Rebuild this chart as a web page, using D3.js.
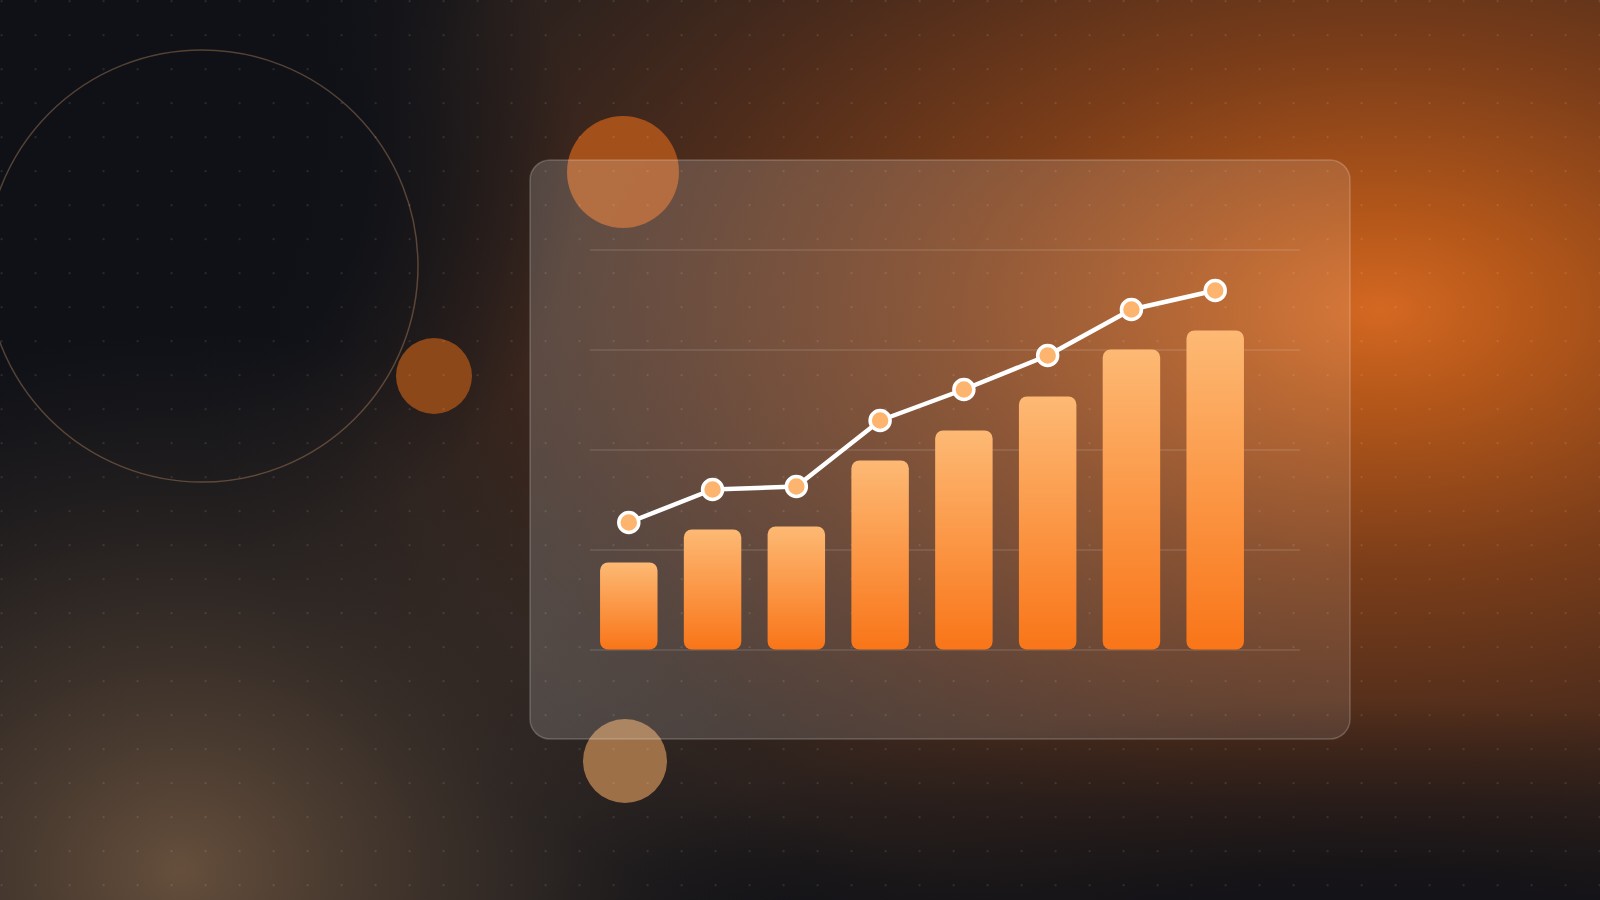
<!DOCTYPE html>
<html>
<head>
<meta charset="utf-8">
<script src="https://cdn.jsdelivr.net/npm/d3@7"></script>
<style>
  html, body { margin: 0; padding: 0; background: #0f1117; overflow: hidden; }
  svg { display: block; }
</style>
</head>
<body>
<svg id="chart" width="1600" height="900"></svg>
<script>
// ---- data ----
const categories = ["P1", "P2", "P3", "P4", "P5", "P6", "P7", "P8"];
const barValues  = [87, 120, 123, 189, 219, 253, 300, 319];
const lineValues = [127, 160, 163, 229, 260, 294, 340, 359];
const yTicks     = [0, 100, 200, 300, 400];

// ---- layout ----
const W = 1600, H = 900;
const svg = d3.select("#chart");
const defs = svg.append("defs");

function radial(id, cx, cy, rx, ry, stops) {
  const g = defs.append("radialGradient").attr("id", id)
    .attr("gradientUnits", "userSpaceOnUse")
    .attr("cx", 0).attr("cy", 0).attr("r", 1)
    .attr("gradientTransform", `translate(${cx},${cy}) scale(${rx},${ry})`);
  stops.forEach(s => g.append("stop").attr("offset", s[0]).attr("stop-color", s[1]).attr("stop-opacity", s[2]));
  return g;
}

radial("glowMain", 1380, 310, 1200, 720, [
  [0, "rgb(212,104,34)", 1],
  [0.12, "rgb(182,88,26)", 1],
  [0.35, "rgb(125,62,25)", 1],
  [0.6, "rgb(82,46,28)", 0.92],
  [0.85, "rgb(58,42,34)", 0.6],
  [1, "rgb(45,36,32)", 0]
]);
radial("darkTL", 150, 180, 430, 400, [
  [0, "rgb(15,17,23)", 1],
  [0.5, "rgb(15,17,23)", 0.92],
  [1, "rgb(15,17,23)", 0]
]);
radial("glowBL", 180, 870, 640, 540, [
  [0, "rgb(106,82,62)", 0.95],
  [0.45, "rgb(80,63,50)", 0.6],
  [1, "rgb(55,44,38)", 0]
]);
radial("darkBR", 1380, 990, 900, 290, [
  [0, "rgb(15,17,23)", 1],
  [0.4, "rgb(17,17,22)", 0.85],
  [1, "rgb(20,18,20)", 0]
]);

const barGrad = defs.append("linearGradient").attr("id", "barGrad")
  .attr("x1", 0).attr("y1", 0).attr("x2", 0).attr("y2", 1);
barGrad.append("stop").attr("offset", 0).attr("stop-color", "#fdb974");
barGrad.append("stop").attr("offset", 1).attr("stop-color", "#f97518");

const panelGrad = defs.append("linearGradient").attr("id", "panelGrad")
  .attr("x1", 0).attr("y1", 0.3).attr("x2", 1).attr("y2", 0.7);
panelGrad.append("stop").attr("offset", 0).attr("stop-color", "#ffffff").attr("stop-opacity", 0.17);
panelGrad.append("stop").attr("offset", 1).attr("stop-color", "#ffffff").attr("stop-opacity", 0.1);

const pat = defs.append("pattern").attr("id", "dots")
  .attr("patternUnits", "userSpaceOnUse")
  .attr("x", 0).attr("y", 0).attr("width", 34).attr("height", 34);
pat.append("circle").attr("cx", 1.6).attr("cy", 1.2).attr("r", 1.1)
  .attr("fill", "#ffffff").attr("fill-opacity", 0.1);

// ---- background ----
svg.append("rect").attr("width", W).attr("height", H).attr("fill", "#0f1117");
svg.append("rect").attr("width", W).attr("height", H).attr("fill", "url(#glowMain)");
svg.append("rect").attr("width", W).attr("height", H).attr("fill", "url(#darkTL)");
svg.append("rect").attr("width", W).attr("height", H).attr("fill", "url(#glowBL)");
svg.append("rect").attr("width", W).attr("height", H).attr("fill", "url(#darkBR)");

// ---- decorative circles ----
svg.append("circle").attr("cx", 202).attr("cy", 266).attr("r", 216)
  .attr("fill", "none").attr("stroke", "rgb(190,140,100)").attr("stroke-opacity", 0.4).attr("stroke-width", 1.5);
svg.append("circle").attr("cx", 434).attr("cy", 376).attr("r", 38)
  .attr("fill", "rgb(140,72,25)");
svg.append("circle").attr("cx", 623).attr("cy", 172).attr("r", 56)
  .attr("fill", "rgb(164,80,26)");
svg.append("circle").attr("cx", 625).attr("cy", 761).attr("r", 42)
  .attr("fill", "rgb(158,112,72)");

// ---- panel ----
svg.append("rect").attr("x", 530).attr("y", 160).attr("width", 820).attr("height", 579)
  .attr("rx", 20).attr("fill", "url(#panelGrad)")
  .attr("stroke", "#ffffff").attr("stroke-opacity", 0.2).attr("stroke-width", 1.5);

// dot grid
svg.append("rect").attr("width", W).attr("height", H).attr("fill", "url(#dots)");

// ---- scales ----
const x = d3.scaleBand().domain(categories).range([590, 1254])
  .paddingInner(0.314).paddingOuter(0.12);
const y = d3.scaleLinear().domain([0, 400]).range([649.5, 249.5]);

// gridlines via axis
const grid = svg.append("g").attr("transform", "translate(590,0)")
  .call(d3.axisLeft(y).tickValues(yTicks).tickSize(-710).tickFormat(""));
grid.select(".domain").remove();
grid.selectAll(".tick line").attr("stroke", "#ffffff").attr("stroke-opacity", 0.13).attr("stroke-width", 1.5);

// bars
svg.append("g").selectAll("rect").data(barValues).join("rect")
  .attr("x", (d, i) => x(categories[i]))
  .attr("y", d => y(d))
  .attr("width", x.bandwidth())
  .attr("height", d => y(0) - y(d))
  .attr("rx", 8)
  .attr("fill", "url(#barGrad)");

// line
const cx = i => x(categories[i]) + x.bandwidth() / 2;
const line = d3.line().x((d, i) => cx(i)).y(d => y(d));
svg.append("path").datum(lineValues).attr("d", line)
  .attr("fill", "none").attr("stroke", "#ffffff").attr("stroke-width", 4.5)
  .attr("stroke-linejoin", "round").attr("stroke-linecap", "round");

svg.append("g").selectAll("circle").data(lineValues).join("circle")
  .attr("cx", (d, i) => cx(i))
  .attr("cy", d => y(d))
  .attr("r", 10)
  .attr("fill", "#fdb46e")
  .attr("stroke", "#ffffff").attr("stroke-width", 3.5);
</script>
</body>
</html>
